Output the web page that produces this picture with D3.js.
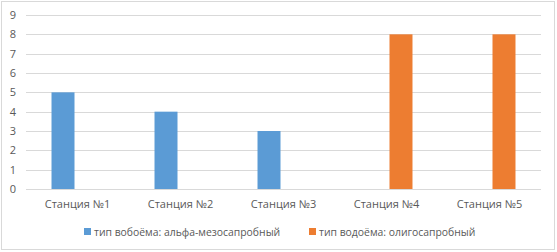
<!DOCTYPE html>
<html>
<head>
<meta charset="utf-8">
<script src="https://cdn.jsdelivr.net/npm/d3@7"></script>
<style>
  body { margin: 0; background: #fff; }
  text { font-family: "Open Sans", sans-serif; font-size: 11px; fill: #595959; }
  .legend text { font-size: 10.4px; }
</style>
</head>
<body>
<svg width="557" height="252"></svg>
<script>
const categories = ['Станция №1', 'Станция №2', 'Станция №3', 'Станция №4', 'Станция №5'];
const seriesNames = ['тип вобоёма: альфа-мезосапробный', 'тип водоёма: олигосапробный'];
const alphaValues = [5, 4, 3, null, null];
const oligoValues = [null, null, null, 8, 8];
const yTicks = [0, 1, 2, 3, 4, 5, 6, 7, 8, 9];
const colors = ['#5b9bd5', '#ed7d31'];

const svg = d3.select('svg');

svg.append('rect')
    .attr('x', 1.5).attr('y', 1.5)
    .attr('width', 553).attr('height', 248)
    .attr('fill', '#fff')
    .attr('stroke', '#d9d9d9');

const x0 = d3.scaleBand().domain(categories).range([26, 541]);
const x1 = d3.scaleBand().domain(seriesNames)
    .range([0, x0.bandwidth()])
    .paddingInner(0.207).paddingOuter(0.88);
const y = d3.scaleLinear().domain([0, 9]).range([189, 15]);

// gridlines
svg.append('g')
    .selectAll('line')
    .data(yTicks)
    .enter().append('line')
        .attr('x1', 26).attr('x2', 541)
        .attr('y1', d => Math.round(y(d)) + 0.5)
        .attr('y2', d => Math.round(y(d)) + 0.5)
        .attr('stroke', '#d9d9d9');

// y labels
svg.append('g')
    .selectAll('text')
    .data(yTicks)
    .enter().append('text')
        .attr('x', 16)
        .attr('y', d => y(d) + 4)
        .attr('text-anchor', 'end')
        .text(d => d);

// bars
const series = [alphaValues, oligoValues];
series.forEach((vals, i) => {
    svg.append('g')
        .selectAll('rect')
        .data(vals.map((v, j) => ({cat: categories[j], v})).filter(d => d.v != null))
        .enter().append('rect')
            .attr('x', d => x0(d.cat) + x1(seriesNames[i]))
            .attr('width', x1.bandwidth())
            .attr('y', d => y(d.v))
            .attr('height', d => y(0) - y(d.v))
            .attr('fill', colors[i]);
});

// category labels
svg.append('g')
    .selectAll('text')
    .data(categories)
    .enter().append('text')
        .attr('x', d => x0(d) + x0.bandwidth() / 2)
        .attr('y', 208)
        .attr('text-anchor', 'middle')
        .text(d => d);

// legend
const legendX = [84, 309];
const legend = svg.append('g')
    .attr('class', 'legend')
    .selectAll('g')
    .data(seriesNames)
    .enter().append('g')
        .attr('transform', (d, i) => `translate(${legendX[i]},232)`);
legend.append('rect')
    .attr('x', 0).attr('y', -4)
    .attr('width', 7).attr('height', 7)
    .attr('fill', (d, i) => colors[i]);
legend.append('text')
    .attr('x', 10).attr('y', 3.5)
    .text(d => d);
</script>
</body>
</html>
